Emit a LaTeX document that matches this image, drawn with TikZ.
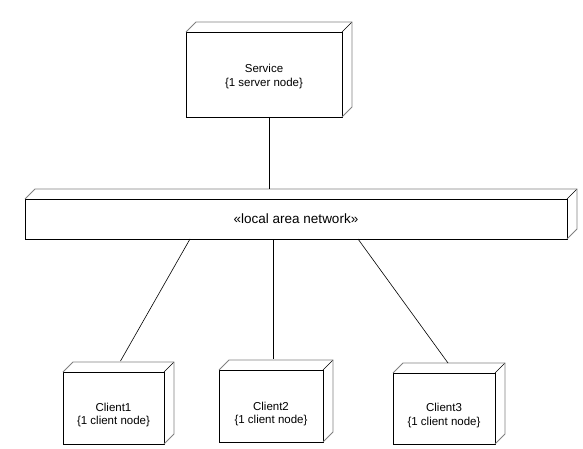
\documentclass[tikz,border=0pt]{standalone}
\usepackage{fontspec}
\setmainfont{Liberation Sans}
\usepackage{tikz}

\tikzset{
  box/.style={draw, line width=0.6pt, inner sep=0pt, outer sep=0pt},
  lbl/.style={align=center, inner sep=0pt, font=\fontsize{11.5}{13.5}\selectfont},
  rim/.style={draw=black!50, line width=0.9pt},
  link/.style={draw, line width=0.6pt}
}
% depth faces of a node
\newcommand{\depthbox}[1]{%
  \draw[line width=0.5pt] (#1.north east) -- ([shift={(10pt,10pt)}]#1.north east);
  \draw[rim] (#1.north west) -- ([shift={(10pt,10pt)}]#1.north west)
    -- ([shift={(10pt,10pt)}]#1.north east) -- ([shift={(10pt,10pt)}]#1.south east)
    -- (#1.south east);
}

\begin{document}
\begin{tikzpicture}[x=1pt,y=-1pt]
    \useasboundingbox (0,0) rectangle (583,449);
    % Server
        \node[box, minimum width=156pt, minimum height=85pt,
          label={[lbl, yshift=-2pt]center:{Service\\\{1 server node\}}}] (srv) at (264,74.5) {};
        \depthbox{srv}
    % LAN
        \node[box, minimum width=542pt, minimum height=40pt,
          font=\fontsize{13.5}{16}\selectfont] (lan) at (296,219) {«local area network»};
        \depthbox{lan}
        \coordinate (lantop) at ([yshift=10pt]lan.north);
    % Clients
        \node[box, minimum width=101pt, minimum height=72pt,
          label={[lbl, yshift=-7pt]center:{Client1\\\{1 client node\}}}] (cl1) at (113.5,408) {};
        \node[box, minimum width=104pt, minimum height=72pt,
          label={[lbl, yshift=-8pt]center:{Client2\\\{1 client node\}}}] (cl2) at (271,406) {};
        \node[box, minimum width=102pt, minimum height=71pt,
          label={[lbl, yshift=-7pt]center:{Client3\\\{1 client node\}}}] (cl3) at (444,408.5) {};
        \depthbox{cl1}
        \depthbox{cl2}
        \depthbox{cl3}
    % Links
        \draw[link] ([xshift=5pt]srv.south) -- ([xshift=5pt]srv.south |- lantop);
        \draw[link] ([xshift=-106pt]lan.south) -- ([shift={(7pt,11pt)}]cl1.north);
        \draw[link] ([xshift=2pt]cl2.south |- lan.south) -- ([shift={(2pt,11pt)}]cl2.north);
        \draw[link] ([xshift=62pt]lan.south) -- ([shift={(4pt,10pt)}]cl3.north);
\end{tikzpicture}
\end{document}
